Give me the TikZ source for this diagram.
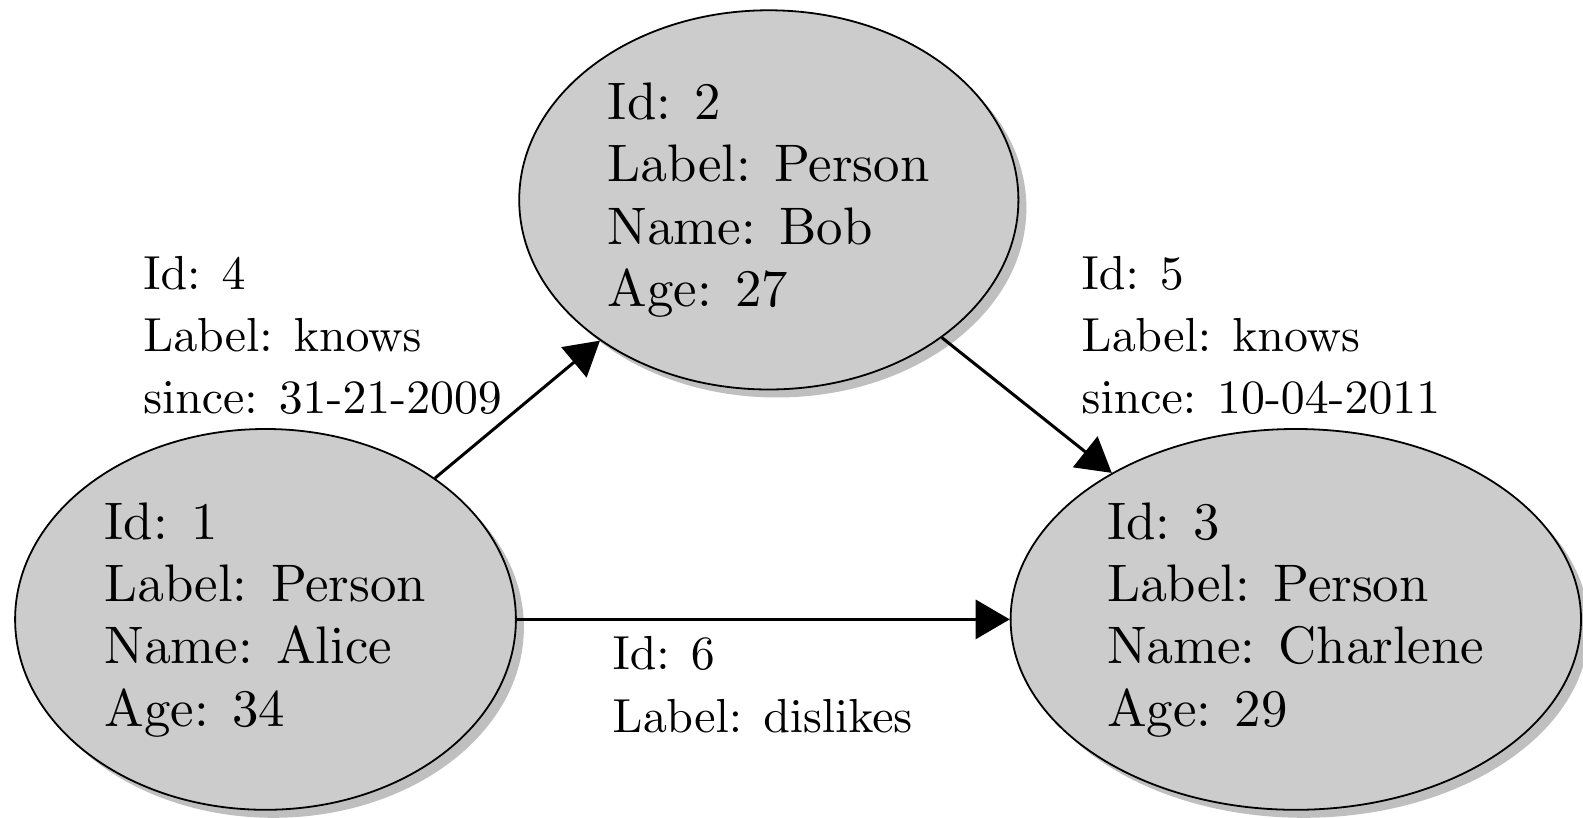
\documentclass[tikz,border=0pt]{standalone}
\usepackage{tikz}
\usetikzlibrary{arrows.meta}
\usetikzlibrary{shapes.geometric}
\usetikzlibrary{shadows}
\DeclareFontFamily{OT1}{cmten}{}
\DeclareFontShape{OT1}{cmten}{m}{n}{<-> cmr10}{}
\newcommand*{\vertexfont}{\fontencoding{OT1}\fontfamily{cmten}\fontsize{26.4pt}{31.15pt}\selectfont}
\newcommand*{\relfont}{\fontencoding{OT1}\fontfamily{cmten}\fontsize{23.9pt}{31.15pt}\selectfont}
\definecolor{vertexgrey}{gray}{0.80}
\definecolor{shadowgrey}{gray}{0.75}
\tikzstyle{vertex}=[ellipse, draw=black, line width=0.9pt, fill=vertexgrey, inner sep=0pt, align=left, font=\vertexfont,
    drop shadow={fill=shadowgrey, opacity=1, shadow xshift=4pt, shadow yshift=-4pt}]
\tikzstyle{relation}=[line width=1.5pt, -{Triangle[length=17pt, width=19.5pt]}]
\tikzstyle{rellabel}=[inner sep=0pt, outer sep=0pt, align=left, font=\relfont, anchor=north west]

\begin{document}
\begin{tikzpicture}[x=1pt, y=1pt]
    \useasboundingbox (0,0) rectangle (791.5,409);
        % vertices
        \node [vertex, minimum width=250.4pt, minimum height=190.4pt] (alice) at (132.75,99.3) {Id: 1\\Label: Person\\Name: Alice\\Age: 34};
        \node [vertex, minimum width=249.6pt, minimum height=189.6pt] (bob) at (384.4,309.05) {Id: 2\\Label: Person\\Name: Bob\\Age: 27};
        \node [vertex, minimum width=285.2pt, minimum height=190.4pt] (charlene) at (647.9,99.3) {Id: 3\\Label: Person\\Name: Charlene\\Age: 29};
        % edges
        \draw [relation] (alice) -- (bob);
        \draw [relation] (bob) -- (charlene);
        \draw [relation] (alice) -- (charlene);
        % edge properties
        \node [rellabel] (knows4) at (71.65,280.95) {Id: 4\\Label: knows\\since: 31-21-2009};
        \node [rellabel] (knows5) at (540.85,280.95) {Id: 5\\Label: knows\\since: 10-04-2011};
        \node [rellabel] (dislikes6) at (306.35,90.6) {Id: 6\\Label: dislikes};
\end{tikzpicture}
\end{document}
